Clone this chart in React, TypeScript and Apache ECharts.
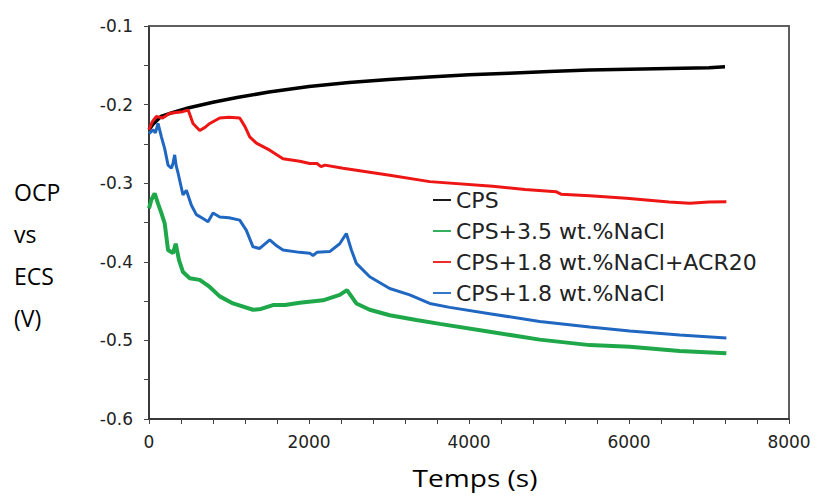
import React, { useEffect, useRef } from "react";
import * as echarts from "echarts";

const seriesNames = [
  "CPS",
  "CPS+3.5 wt.%NaCl",
  "CPS+1.8 wt.%NaCl+ACR20",
  "CPS+1.8 wt.%NaCl",
];

const cps: [number, number][] = [
  [0, -0.232], [50, -0.225], [150, -0.215], [300, -0.21], [500, -0.204],
  [800, -0.197], [1100, -0.191], [1500, -0.184], [2000, -0.177], [2500, -0.172],
  [3000, -0.168], [3500, -0.165], [4000, -0.162], [4500, -0.16], [5000, -0.158],
  [5500, -0.156], [6000, -0.155], [6500, -0.154], [7000, -0.153], [7200, -0.152],
];

const cpsNaCl35: [number, number][] = [
  [0, -0.332], [30, -0.321], [71, -0.313], [113, -0.326], [155, -0.338],
  [196, -0.351], [238, -0.385], [300, -0.389], [334, -0.377], [375, -0.398],
  [425, -0.413], [509, -0.421], [634, -0.423], [759, -0.432], [884, -0.444],
  [1050, -0.453], [1300, -0.461], [1400, -0.46], [1550, -0.455], [1700, -0.455],
  [1884, -0.452], [2175, -0.449], [2384, -0.442], [2475, -0.436], [2592, -0.453],
  [2759, -0.461], [3009, -0.468], [3342, -0.474], [3634, -0.479], [4259, -0.489],
  [4884, -0.499], [5509, -0.506], [6009, -0.508], [6634, -0.5135], [7217, -0.5165],
];

const cpsNaCl18Acr: [number, number][] = [
  [0, -0.232], [40, -0.222], [92, -0.215], [170, -0.217], [260, -0.211],
  [420, -0.209], [490, -0.207], [550, -0.224], [634, -0.233], [700, -0.229],
  [760, -0.224], [884, -0.217], [1000, -0.216], [1134, -0.217], [1200, -0.228],
  [1259, -0.241], [1342, -0.249], [1509, -0.258], [1675, -0.269], [1884, -0.272],
  [2009, -0.275], [2100, -0.275], [2150, -0.279], [2200, -0.277], [2425, -0.281],
  [3009, -0.29], [3509, -0.298], [4296, -0.304], [4700, -0.308], [5092, -0.311],
  [5150, -0.314], [5509, -0.316], [5967, -0.319], [6500, -0.324], [6759, -0.3256],
  [7000, -0.324], [7217, -0.3235],
];

const cpsNaCl18: [number, number][] = [
  [0, -0.237], [50, -0.232], [80, -0.236], [113, -0.224], [155, -0.241],
  [196, -0.256], [238, -0.277], [280, -0.281], [300, -0.275], [321, -0.264],
  [340, -0.278], [363, -0.287], [425, -0.315], [467, -0.309], [530, -0.328],
  [592, -0.34], [675, -0.345], [738, -0.349], [800, -0.338], [884, -0.343],
  [1000, -0.344], [1134, -0.347], [1217, -0.36], [1300, -0.381], [1384, -0.383],
  [1509, -0.372], [1600, -0.38], [1675, -0.385], [1884, -0.388], [2009, -0.389],
  [2050, -0.392], [2100, -0.388], [2259, -0.387], [2384, -0.377], [2467, -0.364],
  [2530, -0.385], [2592, -0.402], [2759, -0.419], [3009, -0.434], [3259, -0.442],
  [3509, -0.453], [3759, -0.458], [4259, -0.466], [4884, -0.476], [5509, -0.483],
  [6009, -0.488], [6634, -0.493], [7217, -0.497],
];

const xMin = 0;
const xMax = 8000;
const yMin = -0.6;
const yMax = -0.1;

const seriesData = [cps, cpsNaCl35, cpsNaCl18Acr, cpsNaCl18];
const seriesColors = ["#000000", "#1fa84a", "#ee1515", "#2067c2"];
const seriesWidths = [3.5, 4, 3, 3];

const frame = "#555555";

export default function App() {
  const ref = useRef<HTMLDivElement>(null);

  useEffect(() => {
    if (!ref.current) return;
    const chart = echarts.init(ref.current, undefined, { renderer: "svg" });
    const labelFont = "DejaVu Sans";
    chart.setOption({
      animation: false,
      backgroundColor: "#ffffff",
      grid: {
        left: 149,
        top: 26,
        right: 28,
        bottom: 77,
        show: true,
        borderColor: frame,
        borderWidth: 1.5,
        backgroundColor: "#ffffff",
      },
      xAxis: [
        {
          type: "value",
          min: xMin,
          max: xMax,
          interval: 2000,
          position: "bottom",
          axisLine: { show: true, onZero: false, lineStyle: { color: "#222", width: 1.5 } },
          axisTick: { show: true, length: 5, lineStyle: { color: "#444" } },
          minorTick: { show: true, splitNumber: 5, length: 5, lineStyle: { color: "#444" } },
          splitLine: { show: false },
          axisLabel: {
            margin: 14,
            fontFamily: labelFont,
            fontSize: 17,
            color: "#222",
            formatter: (v: number) => String(v),
          },
        },
        {
          type: "value",
          min: xMin,
          max: xMax,
          position: "top",
          show: true,
          axisLine: { show: true, onZero: false, lineStyle: { color: frame, width: 1.5 } },
          axisTick: { show: false },
          axisLabel: { show: false },
          splitLine: { show: false },
        },
      ],
      yAxis: [
        {
          type: "value",
          min: yMin,
          max: yMax,
          interval: 0.1,
          position: "left",
          axisLine: { show: true, onZero: false, lineStyle: { color: "#222", width: 1.5 } },
          axisTick: { show: true, length: 5, lineStyle: { color: "#444" } },
          minorTick: { show: true, splitNumber: 2, length: 5, lineStyle: { color: "#444" } },
          splitLine: { show: false },
          axisLabel: {
            margin: 16,
            fontFamily: labelFont,
            fontSize: 17,
            color: "#222",
            formatter: (v: number) => v.toFixed(1),
          },
        },
        {
          type: "value",
          min: yMin,
          max: yMax,
          position: "right",
          show: true,
          axisLine: { show: true, onZero: false, lineStyle: { color: frame, width: 1.5 } },
          axisTick: { show: false },
          axisLabel: { show: false },
          splitLine: { show: false },
        },
      ],
      legend: {
        orient: "vertical",
        left: 433,
        top: 189,
        padding: 0,
        itemWidth: 18,
        itemHeight: 14,
        itemGap: 9,
        textStyle: {
          fontFamily: labelFont,
          fontSize: 22,
          lineHeight: 22,
          color: "#222",
        },
        data: seriesNames.map((n, i) => ({
          name: n,
          icon: "path://M0,0 H20 V2 H0 Z",
          itemStyle: { color: seriesColors[i] },
        })),
      },
      graphic: [
        {
          type: "text",
          left: 14,
          top: 171,
          style: {
            text: "OCP\nvs\nECS\n(V)",
            font: '23px "Open Sans"',
            lineHeight: 42,
            fill: "#000",
          },
        },
        {
          type: "text",
          x: 475,
          y: 478,
          scaleX: 1.22,
          style: {
            text: "Temps (s)",
            font: '23px "Open Sans"',
            align: "center",
            verticalAlign: "middle",
            fill: "#000",
          },
        },
      ],
      series: seriesNames.map((n, i) => ({
        name: n,
        type: "line",
        xAxisIndex: 0,
        yAxisIndex: 0,
        data: seriesData[i],
        symbol: "none",
        smooth: false,
        color: seriesColors[i],
        lineStyle: { color: seriesColors[i], width: seriesWidths[i] },
      })),
    });
    return () => chart.dispose();
  }, []);

  return (
    <div
      ref={ref}
      style={{ position: "fixed", left: 0, top: 0, width: 817, height: 496 }}
    />
  );
}
